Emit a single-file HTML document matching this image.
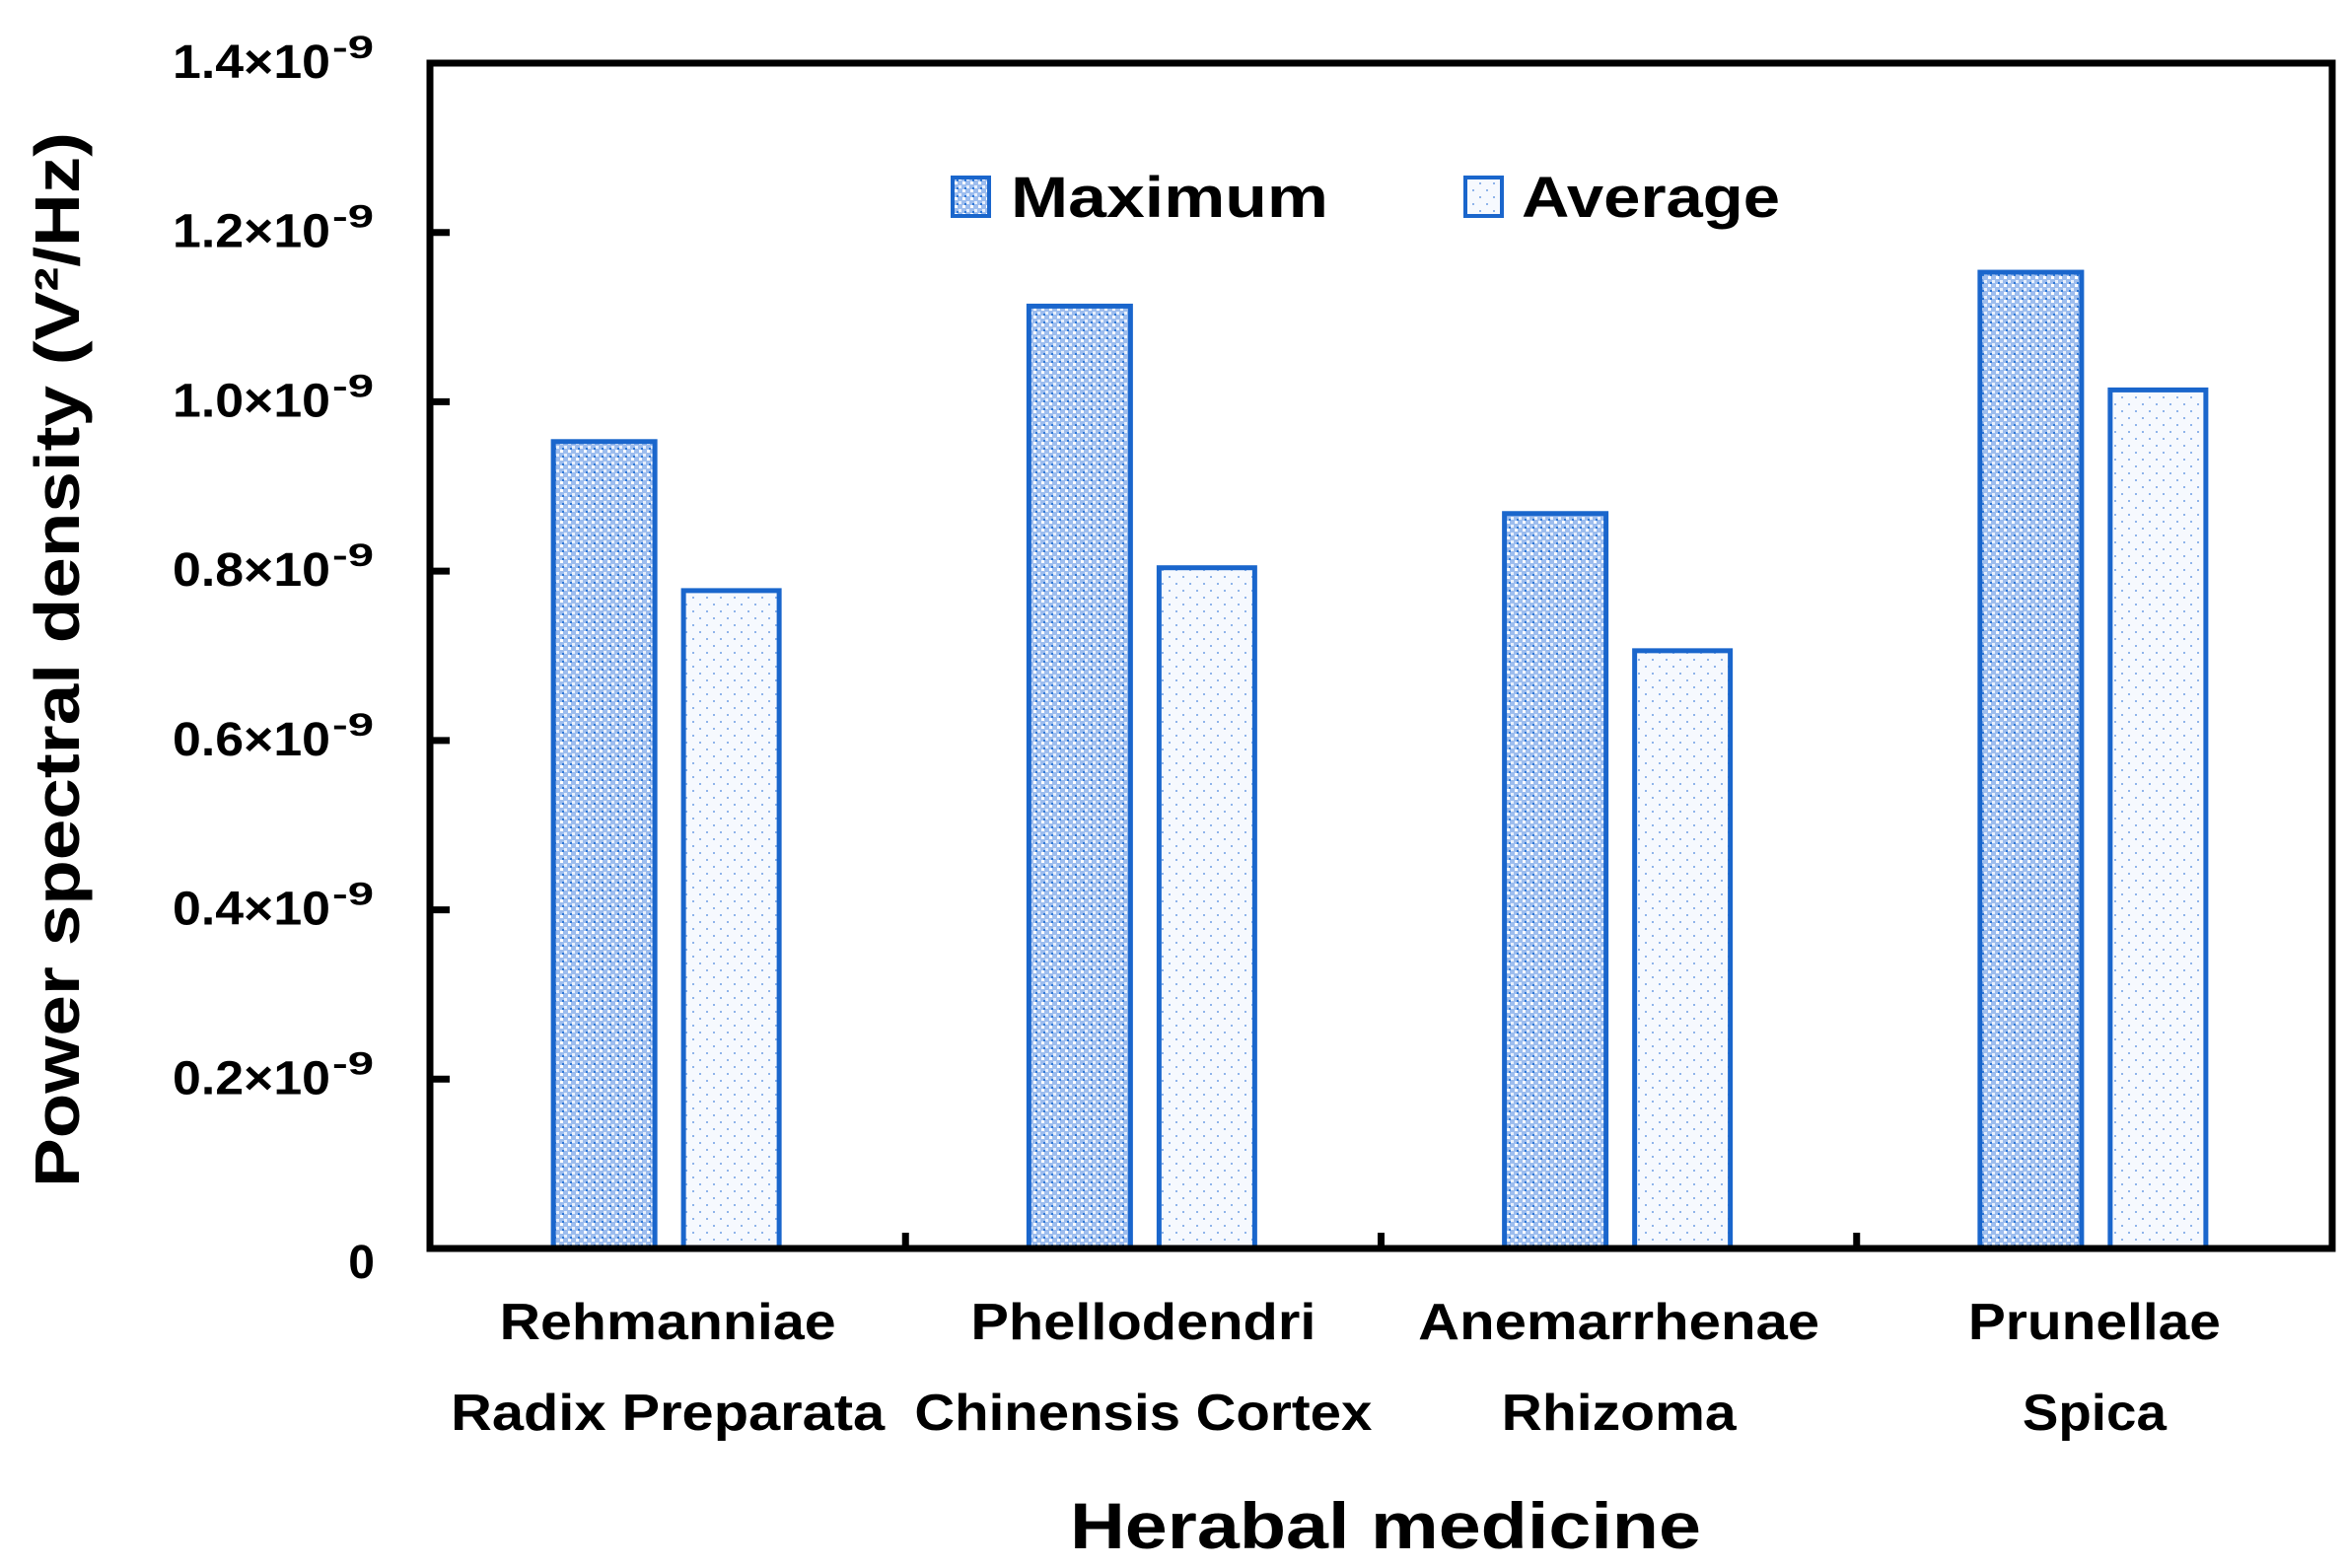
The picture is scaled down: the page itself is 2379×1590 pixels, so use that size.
<!DOCTYPE html>
<html><head><meta charset="utf-8"><style>
html,body{margin:0;padding:0;background:#fff;}
svg{display:block;font-family:"Liberation Sans",Arial,sans-serif;font-weight:bold;}
</style></head><body>
<svg id="chart" width="2379" height="1590" viewBox="0 0 2379 1590" xmlns="http://www.w3.org/2000/svg">
<defs>
<pattern id="pMax" width="8" height="8" patternUnits="userSpaceOnUse">
<rect width="8" height="8" fill="#9dbdee"/>
<rect x="0" y="0" width="3" height="3" fill="#fff"/>
<rect x="4" y="4" width="3" height="3" fill="#e8f0fc"/>
<rect x="2" y="6" width="2" height="2" fill="#2f78d6"/>
</pattern>
<pattern id="pAvg" width="14" height="14" patternUnits="userSpaceOnUse">
<rect width="14" height="14" fill="#f6f9fe"/>
<rect x="2" y="3" width="2" height="2" fill="#8fb4ea"/>
<rect x="9" y="10" width="2" height="2" fill="#8fb4ea"/>
</pattern>
</defs>
</svg>
<script>
const categories1 = ["Rehmanniae","Phellodendri","Anemarrhenae","Prunellae"];
const categories2 = ["Radix Preparata","Chinensis Cortex","Rhizoma","Spica"];
const maxValues = [0.953, 1.113, 0.868, 1.153];
const avgValues = [0.777, 0.804, 0.706, 1.014];
const yTicks = [0.2, 0.4, 0.6, 0.8, 1.0, 1.2, 1.4];
const yTickLabels = ["0.2","0.4","0.6","0.8","1.0","1.2","1.4"];

// label rendering widths (style, not data)
const labelW1 = [341, 350, 407, 256];
const labelW2 = [440, 464, 238, 146];

const NS = "http://www.w3.org/2000/svg";
const svg = document.getElementById('chart');
const L = 436, R = 2365, T = 64, B = 1266, YMAX = 1.4;
const yScale = v => B - v / YMAX * (B - T);
const catW = (R - L) / categories1.length;
const xCenter = i => L + catW * (i + 0.5);
function mk(tag, attrs, parent) {
  const e = document.createElementNS(NS, tag);
  for (const k in attrs) e.setAttribute(k, attrs[k]);
  (parent || svg).appendChild(e);
  return e;
}
maxValues.forEach((v, i) => {
  const r = mk('rect', {x: xCenter(i) - 116, y: yScale(v), width: 103, height: B - yScale(v), fill: 'url(#pMax)', stroke: '#1a66cc', 'stroke-width': 5});
  
  
});
avgValues.forEach((v, i) => {
  const r = mk('rect', {x: xCenter(i) + 16, y: yScale(v), width: 97, height: B - yScale(v), fill: 'url(#pAvg)', stroke: '#1a66cc', 'stroke-width': 5});
  
  
});
const frame = mk('rect', {x: L, y: T, width: R - L, height: B - T, fill: 'none', stroke: '#000', 'stroke-width': 7});


yTicks.forEach((v, i) => {
  const y = yScale(v);
  if (v < YMAX) {
    const t = mk('line', {x1: L, x2: L + 20, y1: y, y2: y, stroke: '#000', 'stroke-width': 7});
    
    
  }
  const tx = mk('text', {x: 175, y: y + 15, 'font-size': 48, textLength: 160, lengthAdjust: 'spacingAndGlyphs'});
  
  
  tx.textContent = yTickLabels[i] + '\u00d710';
  const sup = mk('text', {x: 337, y: y - 5, 'font-size': 32, textLength: 42, lengthAdjust: 'spacingAndGlyphs'});
  
  
  sup.textContent = '-9';
});
const zero = mk('text', {x: 380, y: B + 30, 'text-anchor': 'end', 'font-size': 48});


zero.textContent = '0';
for (let i = 1; i < categories1.length; i++) {
  const x = L + catW * i;
  const t = mk('line', {x1: x, x2: x, y1: B, y2: B - 16, stroke: '#000', 'stroke-width': 7});
  
  
}
categories1.forEach((c, i) => {
  const t1 = mk('text', {x: xCenter(i), y: 1358, 'text-anchor': 'middle', 'font-size': 52, textLength: labelW1[i], lengthAdjust: 'spacingAndGlyphs'});
  
  
  t1.textContent = c;
  const t2 = mk('text', {x: xCenter(i), y: 1450, 'text-anchor': 'middle', 'font-size': 52, textLength: labelW2[i], lengthAdjust: 'spacingAndGlyphs'});
  
  
  t2.textContent = categories2[i];
});
</script>
<svg style="position:absolute;left:0;top:0" width="2379" height="1590">
<text x="1405" y="1570" text-anchor="middle" font-size="66" font-weight="bold" font-family="Liberation Sans, sans-serif" textLength="640" lengthAdjust="spacingAndGlyphs">Herabal medicine</text>
<text transform="translate(80,669) rotate(-90)" text-anchor="middle" font-size="64" font-weight="bold" font-family="Liberation Sans, sans-serif" textLength="1070" lengthAdjust="spacingAndGlyphs">Power spectral density (V²/Hz)</text>
<g>
<rect x="966" y="180" width="37" height="39" fill="url(#pMax)" stroke="#1a66cc" stroke-width="4"/>
<text x="1025" y="220" font-size="58" font-weight="bold" font-family="Liberation Sans, sans-serif" textLength="322" lengthAdjust="spacingAndGlyphs">Maximum</text>
<rect x="1486" y="180" width="37" height="39" fill="url(#pAvg)" stroke="#1a66cc" stroke-width="4"/>
<text x="1543" y="220" font-size="58" font-weight="bold" font-family="Liberation Sans, sans-serif" textLength="262" lengthAdjust="spacingAndGlyphs">Average</text>
</g>
</svg>
</body></html>
